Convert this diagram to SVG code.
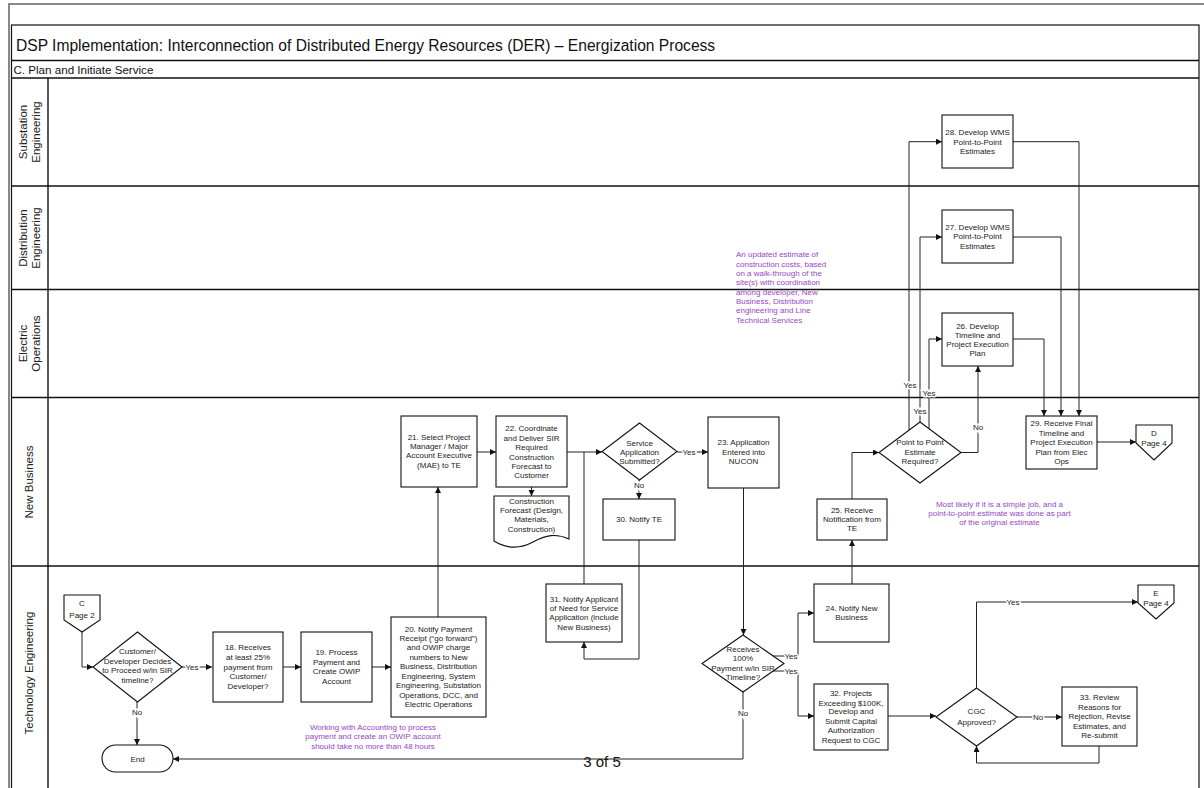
<svg xmlns="http://www.w3.org/2000/svg" width="1204" height="788" viewBox="0 0 1204 788">
<style>
  .frame{fill:none;stroke:#111;stroke-width:1.2}
  .lane{stroke:#111;stroke-width:1.4}
  .box{fill:#fff;stroke:#111;stroke-width:1.1}
  .t{font-family:"Liberation Sans",Arial,sans-serif;font-size:8px;fill:#222;text-anchor:middle}
  .lbl{font-family:"Liberation Sans",Arial,sans-serif;font-size:8px;fill:#222;text-anchor:middle;stroke:#fff;stroke-width:3;paint-order:stroke}
  .lanet{font-family:"Liberation Sans",Arial,sans-serif;font-size:11.5px;fill:#222;text-anchor:middle}
  .note{font-family:"Liberation Sans",Arial,sans-serif;font-size:8px;fill:#9447c9}
  .c{fill:none;stroke:#222;stroke-width:1}
  .ca{fill:none;stroke:#222;stroke-width:1;marker-end:url(#arr)}
</style>
<defs>
  <marker id="arr" markerUnits="userSpaceOnUse" markerWidth="7" markerHeight="7" refX="6" refY="3" orient="auto">
    <path d="M0,0 L6,3 L0,6 z" fill="#111"/>
  </marker>
</defs>
<rect width="1204" height="788" fill="#fff"/>

<!-- page frame and pool -->
<rect x="9" y="4" width="1200" height="800" fill="none" stroke="#888" stroke-width="2"/>
<rect x="11.5" y="25" width="1187.5" height="780" class="frame"/>
<line x1="11.5" y1="60.5" x2="1199" y2="60.5" class="lane"/>
<line x1="11.5" y1="78" x2="1199" y2="78" class="lane"/>
<text x="16" y="51" font-family="Liberation Sans, Arial, sans-serif" font-size="15.6" fill="#111">DSP Implementation: Interconnection of Distributed Energy Resources (DER) – Energization Process</text>
<text x="13.5" y="73.5" font-family="Liberation Sans, Arial, sans-serif" font-size="11.6" fill="#111">C. Plan and Initiate Service</text>

<!-- swimlanes -->
<g id="lanes">
  <line x1="48" y1="78" x2="48" y2="788" class="lane"/>
  <line x1="11.5" y1="186" x2="1199" y2="186" class="lane"/>
  <line x1="11.5" y1="289.5" x2="1199" y2="289.5" class="lane"/>
  <line x1="11.5" y1="397.5" x2="1199" y2="397.5" class="lane"/>
  <line x1="11.5" y1="566" x2="1199" y2="566" class="lane"/>
  <text class="lanet" transform="rotate(-90 27 132)" x="27" y="132">Substation</text>
  <text class="lanet" transform="rotate(-90 40 132)" x="40" y="132">Engineering</text>
  <text class="lanet" transform="rotate(-90 27 238)" x="27" y="238">Distribution</text>
  <text class="lanet" transform="rotate(-90 40 238)" x="40" y="238">Engineering</text>
  <text class="lanet" transform="rotate(-90 27 343.5)" x="27" y="343.5">Electric</text>
  <text class="lanet" transform="rotate(-90 40 343.5)" x="40" y="343.5">Operations</text>
  <text class="lanet" transform="rotate(-90 33 482)" x="33" y="482">New Business</text>
  <text class="lanet" transform="rotate(-90 33 673)" x="33" y="673">Technology Engineering</text>
</g>

<!-- connectors -->
<g id="connectors">
  <path class="ca" d="M82,632 V667 H93"/>
  <path class="ca" d="M182,667 H212"/>
  <path class="ca" d="M137,702 V745"/>
  <path class="ca" d="M283,667 H301"/>
  <path class="ca" d="M372,667 H391"/>
  <path class="ca" d="M438,617 V487"/>
  <path class="ca" d="M477,452 H496"/>
  <path class="ca" d="M531.5,487 V496"/>
  <path class="ca" d="M567,452 H602"/>
  <path class="c" d="M584,584 V452"/>
  <path class="ca" d="M677,452 H708"/>
  <path class="ca" d="M639,480 V499"/>
  <path class="ca" d="M639,540 V659 H584 V642"/>
  <path class="ca" d="M743.5,488 V635"/>
  <path class="ca" d="M743,692 V759 H173"/>
  <path class="ca" d="M773,656 H798 V613 H814"/>
  <path class="ca" d="M773,671 H798 V716 H814"/>
  <path class="ca" d="M852,584 V540"/>
  <path class="ca" d="M852,499 V452.5 H879"/>
  <path class="ca" d="M961,452.5 H978 V366"/>
  <path class="ca" d="M909,430 V141.7 H942"/>
  <path class="ca" d="M920,422 V237 H942"/>
  <path class="ca" d="M929,429 V339 H942"/>
  <path class="ca" d="M1013,141.7 H1079 V416"/>
  <path class="ca" d="M1013,237 H1061 V416"/>
  <path class="ca" d="M1013,339 H1044 V416"/>
  <path class="ca" d="M1097,442 H1136"/>
  <path class="ca" d="M888,716 H936"/>
  <path class="ca" d="M976.5,688 V602 H1138"/>
  <path class="ca" d="M1017,717 H1062"/>
  <path class="ca" d="M1099,746 V763 H976.5 V746"/>
  <!-- connector labels -->
  <text class="lbl" x="192" y="670">Yes</text>
  <text class="lbl" x="137" y="715">No</text>
  <text class="lbl" x="689" y="455">Yes</text>
  <text class="lbl" x="639" y="488">No</text>
  <text class="lbl" x="743" y="716">No</text>
  <text class="lbl" x="791" y="659">Yes</text>
  <text class="lbl" x="791" y="674">Yes</text>
  <text class="lbl" x="978" y="430">No</text>
  <text class="lbl" x="910" y="388">Yes</text>
  <text class="lbl" x="920" y="414">Yes</text>
  <text class="lbl" x="929" y="396">Yes</text>
  <text class="lbl" x="1013" y="605">Yes</text>
  <text class="lbl" x="1038" y="720">No</text>
</g>

<!-- Technology Engineering -->
<g id="offpage-c">
  <path class="box" d="M64,595 H100 V620 L82,632 L64,620 Z"/>
  <text class="t" x="82" y="606">C</text>
  <text class="t" x="82" y="618">Page 2</text>
</g>
<g id="decision-proceed">
  <path class="box" d="M137.5,632 L182,667 L137.5,702 L93,667 Z"/>
  <text class="t" x="137.5" y="654">Customer/</text>
  <text class="t" x="137.5" y="663.5">Developer Decides</text>
  <text class="t" x="137.5" y="673">to Proceed w/in SIR</text>
  <text class="t" x="137.5" y="682.5">timeline?</text>
</g>
<g id="end">
  <rect class="box" x="102" y="745" width="71" height="27" rx="13.5"/>
  <text class="t" x="137.5" y="761.5">End</text>
</g>
<g id="step-18">
  <rect class="box" x="213" y="632" width="70" height="70"/>
  <text class="t" x="248" y="650">18. Receives</text>
  <text class="t" x="248" y="660">at least 25%</text>
  <text class="t" x="248" y="669.5">payment from</text>
  <text class="t" x="248" y="679">Customer/</text>
  <text class="t" x="248" y="689">Developer?</text>
</g>
<g id="step-19">
  <rect class="box" x="301" y="632" width="71" height="70"/>
  <text class="t" x="336.5" y="655">19. Process</text>
  <text class="t" x="336.5" y="665">Payment and</text>
  <text class="t" x="336.5" y="674">Create OWIP</text>
  <text class="t" x="336.5" y="684">Account</text>
</g>
<g id="step-20">
  <rect class="box" x="391" y="617" width="95" height="100"/>
  <text class="t" x="438.5" y="632">20. Notify Payment</text>
  <text class="t" x="438.5" y="641">Receipt (“go forward”)</text>
  <text class="t" x="438.5" y="650">and OWIP charge</text>
  <text class="t" x="438.5" y="660">numbers to New</text>
  <text class="t" x="438.5" y="669">Business, Distribution</text>
  <text class="t" x="438.5" y="679">Engineering, System</text>
  <text class="t" x="438.5" y="688">Engineering, Substation</text>
  <text class="t" x="438.5" y="697.5">Operations, DCC, and</text>
  <text class="t" x="438.5" y="707">Electric Operations</text>
</g>
<g id="note-accounting">
  <text class="note" text-anchor="middle" x="373" y="730">Working with Accounting to process</text>
  <text class="note" text-anchor="middle" x="373" y="739">payment and create an OWIP account</text>
  <text class="note" text-anchor="middle" x="373" y="749">should take no more than 48 hours</text>
</g>
<g id="step-31">
  <rect class="box" x="546" y="584" width="76" height="58"/>
  <text class="t" x="584" y="602">31. Notify Applicant</text>
  <text class="t" x="584" y="611">of Need for Service</text>
  <text class="t" x="584" y="620">Application (include</text>
  <text class="t" x="584" y="630">New Business)</text>
</g>
<g id="decision-payment">
  <path class="box" d="M743,635 L784,663.5 L743,692 L702,663.5 Z"/>
  <text class="t" x="743" y="652">Receives</text>
  <text class="t" x="743" y="661">100%</text>
  <text class="t" x="743" y="671">Payment w/in SIR</text>
  <text class="t" x="743" y="680">Timeline?</text>
</g>
<g id="step-24">
  <rect class="box" x="814" y="584" width="75" height="58"/>
  <text class="t" x="851.5" y="611">24. Notify New</text>
  <text class="t" x="851.5" y="620">Business</text>
</g>
<g id="step-32">
  <rect class="box" x="814" y="684" width="74" height="66"/>
  <text class="t" x="851" y="696">32. Projects</text>
  <text class="t" x="851" y="705.5">Exceeding $100K,</text>
  <text class="t" x="851" y="714">Develop and</text>
  <text class="t" x="851" y="724">Submit Capital</text>
  <text class="t" x="851" y="733">Authorization</text>
  <text class="t" x="851" y="743">Request to CGC</text>
</g>
<g id="decision-cgc">
  <path class="box" d="M976.5,688 L1017,717 L976.5,746 L936,717 Z"/>
  <text class="t" x="976.5" y="714">CGC</text>
  <text class="t" x="976.5" y="724.5">Approved?</text>
</g>
<g id="step-33">
  <rect class="box" x="1062" y="687" width="75" height="59"/>
  <text class="t" x="1099.5" y="700">33. Review</text>
  <text class="t" x="1099.5" y="709.5">Reasons for</text>
  <text class="t" x="1099.5" y="719">Rejection, Revise</text>
  <text class="t" x="1099.5" y="728.5">Estimates, and</text>
  <text class="t" x="1099.5" y="738">Re-submit</text>
</g>
<g id="offpage-e">
  <path class="box" d="M1138,585 H1174 V603 L1156,619 L1138,603 Z"/>
  <text class="t" x="1156" y="595.5">E</text>
  <text class="t" x="1156" y="606">Page 4</text>
</g>

<!-- New Business -->
<g id="step-21">
  <rect class="box" x="401" y="416" width="76" height="71"/>
  <text class="t" x="439" y="439.5">21. Select Project</text>
  <text class="t" x="439" y="449">Manager / Major</text>
  <text class="t" x="439" y="458">Account Executive</text>
  <text class="t" x="439" y="468">(MAE) to TE</text>
</g>
<g id="step-22">
  <rect class="box" x="496" y="416" width="71" height="71"/>
  <text class="t" x="531.5" y="431">22. Coordinate</text>
  <text class="t" x="531.5" y="440.5">and Deliver SIR</text>
  <text class="t" x="531.5" y="450">Required</text>
  <text class="t" x="531.5" y="459.5">Construction</text>
  <text class="t" x="531.5" y="469">Forecast to</text>
  <text class="t" x="531.5" y="478">Customer</text>
</g>
<g id="doc-forecast">
  <path class="box" d="M494,496 H569 V539 C556,533 546,535 533,542 C520,549 507,549 494,541 Z"/>
  <text class="t" x="531.5" y="503.5">Construction</text>
  <text class="t" x="531.5" y="513">Forecast (Design,</text>
  <text class="t" x="531.5" y="522">Materials,</text>
  <text class="t" x="531.5" y="531.5">Construction)</text>
</g>
<g id="decision-application">
  <path class="box" d="M639.5,423 L677,451.5 L639.5,480 L602,451.5 Z"/>
  <text class="t" x="639.5" y="445.5">Service</text>
  <text class="t" x="639.5" y="455">Application</text>
  <text class="t" x="639.5" y="464">Submitted?</text>
</g>
<g id="step-30">
  <rect class="box" x="603" y="499" width="72" height="41"/>
  <text class="t" x="639" y="522">30. Notify TE</text>
</g>
<g id="step-23">
  <rect class="box" x="708" y="417" width="71" height="71"/>
  <text class="t" x="743.5" y="445">23. Application</text>
  <text class="t" x="743.5" y="455">Entered into</text>
  <text class="t" x="743.5" y="464">NUCON</text>
</g>
<g id="step-25">
  <rect class="box" x="817" y="499" width="70" height="41"/>
  <text class="t" x="852" y="513">25. Receive</text>
  <text class="t" x="852" y="522">Notification from</text>
  <text class="t" x="852" y="531">TE</text>
</g>
<g id="decision-p2p">
  <path class="box" d="M920,422 L961,452.5 L920,483 L879,452.5 Z"/>
  <text class="t" x="920" y="445">Point to Point</text>
  <text class="t" x="920" y="455">Estimate</text>
  <text class="t" x="920" y="464">Required?</text>
</g>
<g id="note-simple">
  <text class="note" text-anchor="middle" x="999.5" y="507">Most likely if it is a simple job, and a</text>
  <text class="note" text-anchor="middle" x="999.5" y="516">point-to-point estimate was done as part</text>
  <text class="note" text-anchor="middle" x="999.5" y="525">of the original estimate</text>
</g>
<g id="step-29">
  <rect class="box" x="1026" y="416" width="71" height="53"/>
  <text class="t" x="1061.5" y="426">29. Receive Final</text>
  <text class="t" x="1061.5" y="436">Timeline and</text>
  <text class="t" x="1061.5" y="445">Project Execution</text>
  <text class="t" x="1061.5" y="454.5">Plan from Elec</text>
  <text class="t" x="1061.5" y="464">Ops</text>
</g>
<g id="offpage-d">
  <path class="box" d="M1136,425 H1172 V443 L1154,460 L1136,443 Z"/>
  <text class="t" x="1154" y="436">D</text>
  <text class="t" x="1154" y="446">Page 4</text>
</g>

<!-- Electric Operations -->
<g id="step-26">
  <rect class="box" x="942" y="313" width="71" height="53"/>
  <text class="t" x="977.5" y="329">26. Develop</text>
  <text class="t" x="977.5" y="338">Timeline and</text>
  <text class="t" x="977.5" y="347">Project Execution</text>
  <text class="t" x="977.5" y="356">Plan</text>
</g>
<g id="note-estimate">
  <text class="note" x="736" y="257">An updated estimate of</text>
  <text class="note" x="736" y="266.5">construction costs, based</text>
  <text class="note" x="736" y="275.5">on a walk-through of the</text>
  <text class="note" x="736" y="285">site(s) with coordination</text>
  <text class="note" x="736" y="294.5">among developer, New</text>
  <text class="note" x="736" y="304">Business, Distribution</text>
  <text class="note" x="736" y="313">engineering and Line</text>
  <text class="note" x="736" y="322.5">Technical Services</text>
</g>

<!-- Distribution Engineering -->
<g id="step-27">
  <rect class="box" x="942" y="210" width="71" height="53"/>
  <text class="t" x="977.5" y="230">27. Develop WMS</text>
  <text class="t" x="977.5" y="239">Point-to-Point</text>
  <text class="t" x="977.5" y="249">Estimates</text>
</g>

<!-- Substation Engineering -->
<g id="step-28">
  <rect class="box" x="942" y="115" width="71" height="53"/>
  <text class="t" x="977.5" y="135">28. Develop WMS</text>
  <text class="t" x="977.5" y="144.5">Point-to-Point</text>
  <text class="t" x="977.5" y="153.5">Estimates</text>
</g>

<text x="602" y="767" font-family="Liberation Sans, Arial, sans-serif" font-size="15" fill="#111" text-anchor="middle">3 of 5</text>
</svg>
